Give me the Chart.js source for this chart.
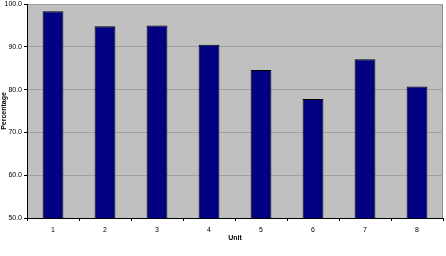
<!DOCTYPE html>
<html>
<head>
<meta charset="utf-8">
<script src="https://cdn.jsdelivr.net/npm/chart.js"></script>
<style>
  html, body { margin: 0; padding: 0; background: #fff; }
  #wrap { width: 446px; height: 256px; position: relative; }
</style>
</head>
<body>
<div id="wrap"><canvas id="chart"></canvas></div>
<script>
// data
const units = ['1', '2', '3', '4', '5', '6', '7', '8'];
const percentages = [98.3, 94.8, 95.0, 90.5, 84.6, 77.8, 87.1, 80.7];
const yMin = 50;
const yMax = 100;
const yStep = 10;

// grey plot background plus light frame on top/right
const plotBackground = {
  id: 'plotBackground',
  beforeDraw(chart) {
    const { ctx, chartArea: a } = chart;
    ctx.save();
    ctx.fillStyle = '#c0c0c0';
    ctx.fillRect(a.left, a.top, a.right - a.left, a.bottom - a.top);
    ctx.strokeStyle = '#8c8c8c';
    ctx.lineWidth = 1;
    ctx.beginPath();
    ctx.moveTo(a.left, a.top + 0.5);
    ctx.lineTo(a.right - 0.5, a.top + 0.5);
    ctx.lineTo(a.right - 0.5, a.bottom);
    ctx.stroke();
    ctx.restore();
  },
};

const font = { family: '"Liberation Sans", Arial, sans-serif', size: 7 };

new Chart(document.getElementById('chart'), {
  type: 'bar',
  data: {
    labels: units,
    datasets: [{
      data: percentages,
      backgroundColor: '#000080',
      borderColor: '#000000',
      borderWidth: 1,
      barPercentage: 0.4,
      categoryPercentage: 1.0,
    }],
  },
  options: {
    responsive: true,
    maintainAspectRatio: false,
    animation: false,
    layout: { padding: { top: 4, right: 3, left: 0, bottom: 0 } },
    plugins: {
      legend: { display: false },
      tooltip: { enabled: false },
    },
    scales: {
      x: {
        grid: {
          offset: true,
          drawOnChartArea: false,
          drawTicks: true,
          tickLength: 3,
          color: '#000',
        },
        border: { color: '#000', width: 1 },
        ticks: { color: '#000', font, padding: 5, maxRotation: 0 },
        title: {
          display: true,
          text: 'Unit',
          color: '#000',
          font: { ...font, weight: 'bold' },
          padding: { top: 0, bottom: 14 },
        },
        afterFit(scale) { scale.height = 38; },
      },
      y: {
        min: yMin,
        max: yMax,
        grid: {
          color: '#a0a0a0',
          drawTicks: true,
          tickLength: 3,
          tickColor: '#000',
        },
        border: { color: '#000', width: 1 },
        ticks: {
          stepSize: yStep,
          color: '#000',
          font,
          padding: 2,
          callback: (v) => Number(v).toFixed(1),
        },
        title: {
          display: true,
          text: 'Percentage',
          color: '#000',
          font: { ...font, weight: 'bold' },
          padding: 0,
        },
        afterFit(scale) {
          scale.width = 27;
          scale.paddingTop = 0;
          scale.paddingBottom = 0;
        },
      },
    },
  },
  plugins: [plotBackground],
});
</script>
</body>
</html>
